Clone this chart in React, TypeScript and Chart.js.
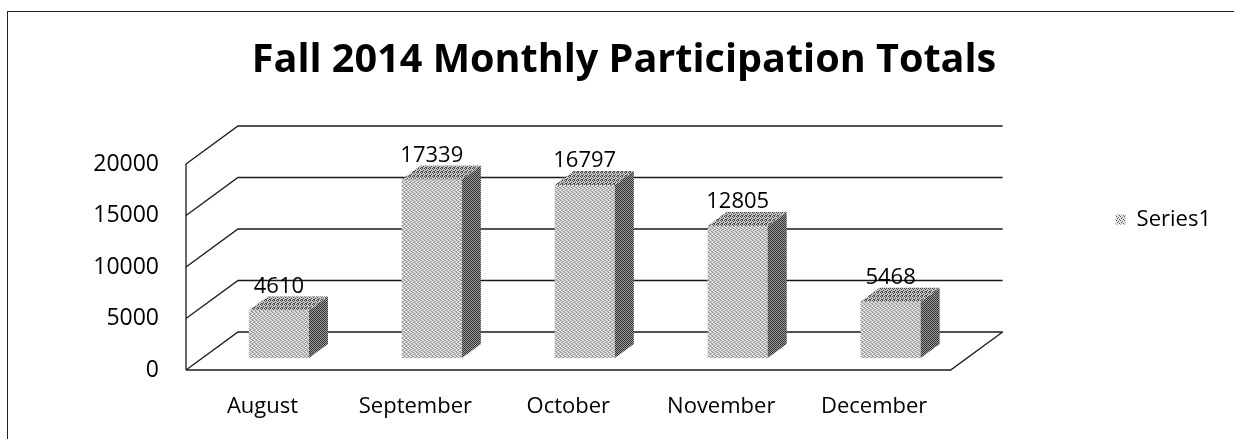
import React, { useEffect, useRef } from "react";
import { Chart, registerables } from "chart.js";

Chart.register(...registerables);

const chartTitle = "Fall 2014 Monthly Participation Totals";
const seriesName = "Series1";
const categories = ["August", "September", "October", "November", "December"];
const participation = [4610, 17339, 16797, 12805, 5468];
const yTicks = [0, 5000, 10000, 15000, 20000];

// 3D look (oblique projection offsets)
const WALL_DX = 52;
const WALL_DY = -38;
const BAR_POS = 0.316; // depth position of bar front face
const BAR_DX = 19;
const BAR_DY = -14;

function makePattern(light: string, dark: string, cells: number[][]) {
  const c = document.createElement("canvas");
  c.width = 4;
  c.height = 4;
  const g = c.getContext("2d")!;
  g.fillStyle = light;
  g.fillRect(0, 0, 4, 4);
  g.fillStyle = dark;
  cells.forEach(([x, y]) => g.fillRect(x, y, 1, 1));
  const ctx = document.createElement("canvas").getContext("2d")!;
  return ctx.createPattern(c, "repeat")!;
}

const threeD = {
  id: "threeD",
  beforeDatasetsDraw(chart: any) {
    const { ctx, chartArea, scales } = chart;
    const ys = scales.y;
    const L = chartArea.left;
    const R = chartArea.right;
    const y0 = ys.getPixelForValue(0);
    const yTop = ys.getPixelForValue(yTicks[yTicks.length - 1]);
    ctx.save();
    ctx.strokeStyle = "#1a1a1a";
    ctx.lineWidth = 1.3;
    yTicks.forEach((v) => {
      const y = ys.getPixelForValue(v);
      ctx.beginPath();
      ctx.moveTo(L, y);
      ctx.lineTo(L + WALL_DX, y + WALL_DY);
      ctx.lineTo(R + WALL_DX, y + WALL_DY);
      ctx.stroke();
    });
    ctx.beginPath();
    ctx.moveTo(L, y0);
    ctx.lineTo(L, yTop);
    ctx.stroke();
    ctx.beginPath();
    ctx.moveTo(L, y0);
    ctx.lineTo(R, y0);
    ctx.lineTo(R + WALL_DX, y0 + WALL_DY);
    ctx.stroke();
    ctx.restore();
    ctx.save();
    ctx.translate(WALL_DX * BAR_POS, WALL_DY * BAR_POS);
  },
  afterDatasetsDraw(chart: any) {
    const { ctx } = chart;
    ctx.restore();
    const fx = WALL_DX * BAR_POS;
    const fy = WALL_DY * BAR_POS;
    const meta = chart.getDatasetMeta(0);
    const opts = chart.options.plugins.threeD;
    meta.data.forEach((bar: any, i: number) => {
      const p = bar.getProps(["x", "y", "base", "width"], true);
      const xl = p.x - p.width / 2 + fx;
      const xr = p.x + p.width / 2 + fx;
      const yt = p.y + fy;
      const yb = p.base + fy;
      ctx.save();
      ctx.fillStyle = opts.side;
      ctx.beginPath();
      ctx.moveTo(xr, yt);
      ctx.lineTo(xr + BAR_DX, yt + BAR_DY);
      ctx.lineTo(xr + BAR_DX, yb + BAR_DY);
      ctx.lineTo(xr, yb);
      ctx.closePath();
      ctx.fill();
      ctx.fillStyle = opts.top;
      ctx.beginPath();
      ctx.moveTo(xl, yt);
      ctx.lineTo(xl + BAR_DX, yt + BAR_DY);
      ctx.lineTo(xr + BAR_DX, yt + BAR_DY);
      ctx.lineTo(xr, yt);
      ctx.closePath();
      ctx.fill();
      ctx.fillStyle = "#000";
      ctx.font = "22px 'Open Sans', sans-serif";
      ctx.textAlign = "center";
      ctx.textBaseline = "middle";
      ctx.fillText(String(participation[i]), p.x + fx, yt - 24);
      ctx.restore();
    });
  },
};

export default function App() {
  const ref = useRef<HTMLCanvasElement>(null);
  useEffect(() => {
    const front = makePattern("#e4e4e4", "#5a5a5a", [[0, 0], [2, 1], [1, 2], [3, 3]]);
    const side = makePattern("#a0a0a0", "#2e2e2e", [[0, 0], [2, 0], [1, 1], [3, 1], [0, 2], [2, 2], [1, 3], [3, 3]]);
    const top = makePattern("#c4c4c4", "#4a4a4a", [[0, 0], [2, 0], [1, 1], [3, 2], [1, 3], [2, 3]]);
    Chart.defaults.font.family = "'Open Sans', sans-serif";
    Chart.defaults.color = "#000";
    const chart = new Chart(ref.current!, {
      type: "bar",
      data: {
        labels: categories,
        datasets: [
          {
            label: seriesName,
            data: participation,
            backgroundColor: front,
            borderWidth: 0,
            barPercentage: 0.393,
            categoryPercentage: 1,
            clip: false as any,
          },
        ],
      },
      plugins: [threeD as any],
      options: {
        animation: false,
        responsive: false,
        devicePixelRatio: 1,
        layout: { padding: { top: 0, left: 27, right: 13, bottom: 0 } },
        plugins: {
          threeD: { side, top },
          title: {
            display: true,
            text: chartTitle,
            font: { size: 39.6, weight: "bold" },
            color: "#000",
            padding: { top: 37, bottom: 79.5 },
          },
          legend: {
            display: true,
            position: "right",
            labels: { boxWidth: 10, boxHeight: 10, font: { size: 22 }, padding: 10, color: "#000" },
          },
          tooltip: { enabled: false },
        } as any,
        scales: {
          x: {
            grid: { display: false },
            border: { display: false },
            ticks: { font: { size: 22 }, padding: 16, color: "#000" },
            afterFit: (s: any) => {
              s.height = 69;
            },
          },
          y: {
            min: 0,
            max: 20000,
            grid: { display: false, drawTicks: false },
            border: { display: false },
            afterBuildTicks: (s: any) => {
              s.ticks = yTicks.map((v) => ({ value: v }));
            },
            ticks: { font: { size: 23 }, padding: 27, color: "#000", callback: (v: any) => String(v) },
            afterFit: (s: any) => {
              s.width = 159;
            },
          },
          yRight: {
            type: "linear",
            position: "right",
            display: true,
            grid: { display: false },
            border: { display: false },
            ticks: { display: false },
            afterFit: (s: any) => {
              s.width = 155;
            },
          },
        } as any,
      },
    });
    return () => chart.destroy();
  }, []);
  return (
    <div style={{ position: "fixed", left: 0, top: 0, width: 1234, height: 439, background: "#fff", overflow: "hidden" }}>
      <div
        style={{
          position: "absolute",
          left: 7,
          top: 11,
          width: 1300,
          height: 600,
          border: "1.5px solid #222",
          boxSizing: "border-box",
        }}
      />
      <canvas ref={ref} width={1234} height={439} style={{ position: "absolute", left: 0, top: 0 }} />
    </div>
  );
}
